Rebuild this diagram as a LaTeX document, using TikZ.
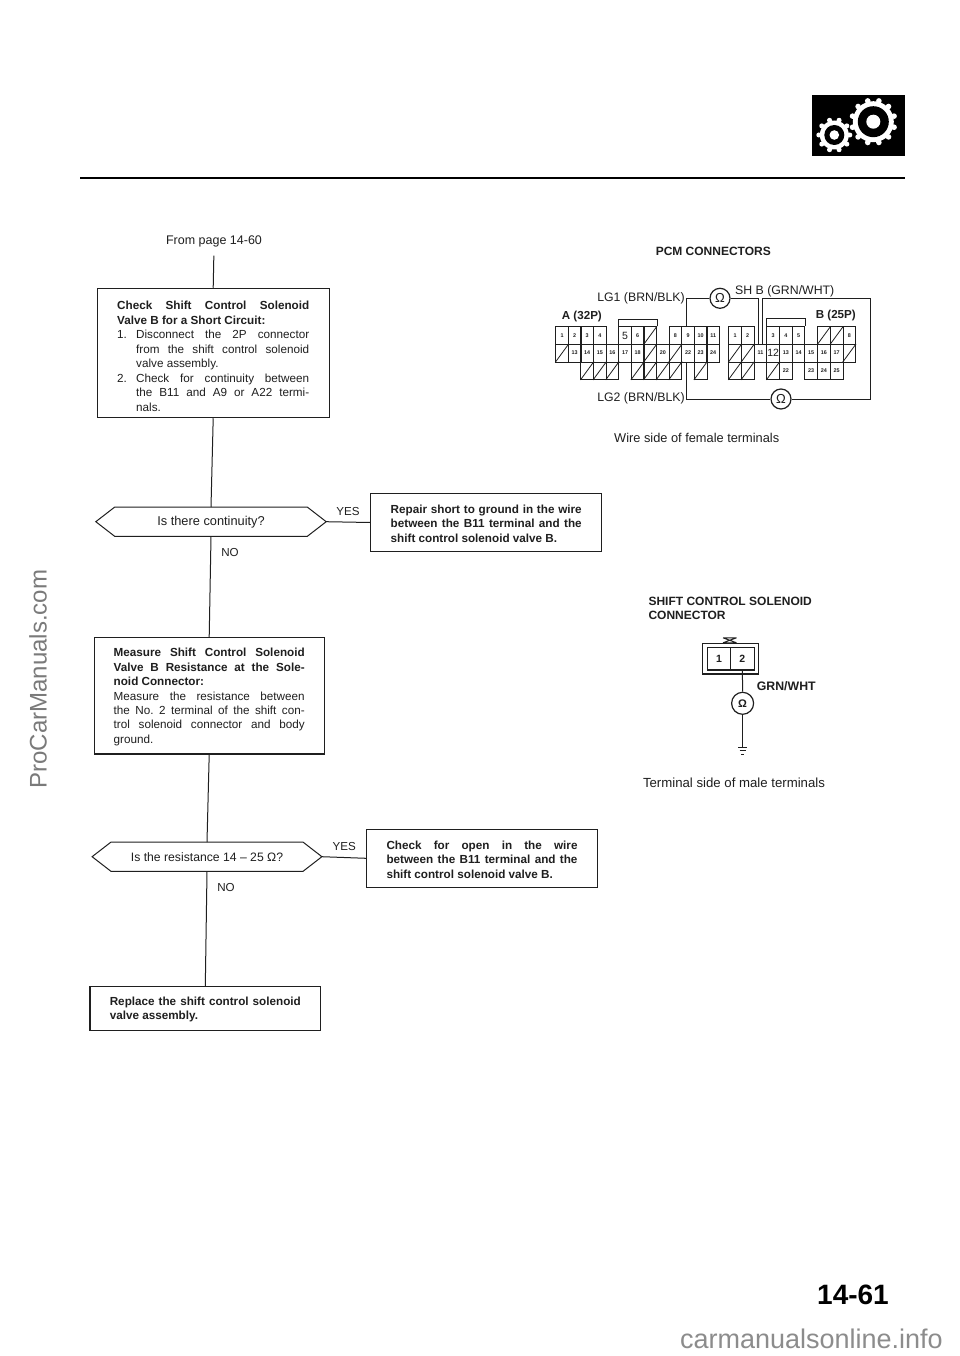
\documentclass[tikz,border=0pt]{standalone}
\usepackage{fontspec}
\setmainfont{Liberation Sans}
\usetikzlibrary{calc}
\definecolor{ink}{gray}{0.12}
\tikzset{
  every node/.style={text=ink},
  wire/.style={draw=ink,line width=1pt},
  frame/.style={draw=ink,line width=1.1pt,inner sep=0pt,align=justify,font=\fontsize{11.7}{14.45}\selectfont\frenchspacing},
  plain/.style={inner sep=0pt,font=\fontsize{12.8}{14}\selectfont},
  answer/.style={inner sep=0pt,font=\fontsize{11.6}{14}\selectfont},
  hd/.style={inner sep=0pt,font=\fontsize{12}{14}\bfseries\selectfont},
  lab/.style={inner sep=0pt,font=\fontsize{12.3}{14}\selectfont},
  pins/.style={inner sep=0pt,font=\fontsize{11.6}{14}\bfseries\selectfont},
  cell/.style={draw=ink,line width=.8pt,minimum width=12.65pt,minimum height=17.6pt,inner sep=0pt,font=\fontsize{5.4}{6}\bfseries\selectfont},
  bigcell/.style={cell,font=\fontsize{10.5}{11}\selectfont},
  meter/.style={circle,draw=ink,line width=1.2pt,minimum size=20pt,inner sep=0pt,fill=white,font=\fontsize{13}{13}\selectfont},
  hexa/.style={inner sep=0pt,font=\fontsize{12.8}{14}\selectfont},
}
\newcommand{\hexpath}[1]{%
  \draw[wire] (#1.west) -- ($(#1.north west)+(19,0)$) -- ($(#1.north east)+(-19,0)$) -- (#1.east)
    -- ($(#1.south east)+(-19,0)$) -- ($(#1.south west)+(19,0)$) -- cycle;}
\begin{document}
\begin{tikzpicture}[x=1pt,y=-1pt]
\useasboundingbox (0,0) rectangle (960,1356);
\fill[white] (0,0) rectangle (960,1356);

% badge and rule
\fill[black] (811.5,95) rectangle (905,156);
\fill[white] (873.3,121.7) circle (20.5);
\foreach \a in {0,30,...,330}{\fill[white] ($(873.3,121.7)+(\a+15:21.5)$) circle (2.8);}
\fill[black] (873.3,121.7) circle (15.5);
\fill[white] (873.3,121.7) circle (7);
\fill[white] (834.3,135) circle (14.5);
\foreach \a in {0,36,...,324}{\fill[white] ($(834.3,135)+(\a:15.5)$) circle (2.5);}
\fill[black] (834.3,135) circle (10);
\fill[white] (834.3,135) circle (4.8);
\draw[black,line width=2pt] (80,178) -- (905,178);

% flow chart
\node[plain,font=\fontsize{12.5}{14}\selectfont] (from) at (214,241.7) {From page 14-60};
\node[frame,minimum width=231.7pt,minimum height=129.4pt,text width=192pt] (b1) at (213.2,353) {%
\rule{0pt}{15pt}\textbf{Check Shift Control Solenoid\linebreak Valve B for a Short Circuit:}\par
\hangindent=19pt\hangafter=1 \makebox[19pt][l]{1.}Disconnect the 2P connector\linebreak from the shift control solenoid\linebreak valve assembly.\par
\hangindent=19pt\hangafter=1 \makebox[19pt][l]{2.}Check for continuity between\linebreak the B11 and A9 or A22 termi-\linebreak nals.\par};
\node[hexa,minimum width=230pt,minimum height=29pt] (d1) at (211,521.7) {Is there continuity?};
\hexpath{d1}
\node[answer] (y1) at (348,511.7) {YES};
\node[answer] (n1) at (230,552.3) {NO};
\node[frame,minimum width=231pt,minimum height=58.4pt,text width=191pt] (r1) at (486.2,522.5) {%
\rule{0pt}{11pt}\textbf{Repair short to ground in the wire\linebreak between the B11 terminal and the\linebreak shift control solenoid valve B.}\par};
\node[frame,minimum width=229.7pt,minimum height=116.3pt,text width=191pt] (b2) at (209.2,695.8) {%
\rule{0pt}{11pt}\textbf{Measure Shift Control Solenoid\linebreak Valve B Resistance at the Sole-\linebreak noid Connector:}\par
Measure the resistance between\linebreak the No. 2 terminal of the shift con-\linebreak trol solenoid connector and body\linebreak ground.\par};
\node[hexa,font=\fontsize{12.2}{14}\selectfont,minimum width=229.4pt,minimum height=29pt] (d2) at (207,856.7) {Is the resistance 14 – 25 Ω?};
\hexpath{d2}
\node[answer] (y2) at (344.3,846.7) {YES};
\node[answer] (n2) at (226,887.3) {NO};
\node[frame,minimum width=230.6pt,minimum height=58pt,text width=191pt] (r2) at (482,858.3) {%
\rule{0pt}{11pt}\textbf{Check for open in the wire\linebreak between the B11 terminal and the\linebreak shift control solenoid valve B.}\par};
\node[frame,minimum width=230.7pt,minimum height=44pt,text width=191pt] (b3) at (205.3,1008.7) {%
\rule{0pt}{10.5pt}\textbf{Replace the shift control solenoid\linebreak valve assembly.}\par};

\draw[wire,shorten <=8pt] (from.south) -- (b1.north);
\draw[wire] (b1.south) -- (d1.north);
\draw[wire] (d1.east) -- (r1.west);
\draw[wire] (d1.south) -- (b2.north);
\draw[wire] (b2.south) -- (d2.north);
\draw[wire] (d2.east) -- (r2.west);
\draw[wire] (d2.south) -- (b3.north);

% PCM connectors
\node[hd] (pcm) at (713.3,251.7) {PCM CONNECTORS};
\foreach \c/\r/\l in {0/0/1,1/0/2,2/0/3,3/0/4,6/0/6,9/0/8,10/0/9,11/0/10,12/0/11,
  1/1/13,2/1/14,3/1/15,4/1/16,5/1/17,6/1/18,8/1/20,10/1/22,11/1/23,12/1/24}{
  \node[cell] (A-\r-\c) at ({562+12.6*\c},{335.5+17.6*\r}) {\l};}
\node[bigcell] (A-0-5) at ({562+12.6*5},335.5) {5};
\foreach \c/\r in {7/0,0/1,7/1,9/1,2/2,3/2,4/2,6/2,7/2,8/2,9/2,11/2}{
  \node[cell] (A-\r-\c) at ({562+12.6*\c},{335.5+17.6*\r}) {};
  \draw[ink,line width=.8pt] (A-\r-\c.south west) -- (A-\r-\c.north east);}
\draw[wire,line width=.8pt] (A-0-5.north west) -- ++(0,-6.5) -| (A-0-7.north east);
\foreach \c/\r/\l in {0/0/1,1/0/2,3/0/3,4/0/4,5/0/5,9/0/8,
  2/1/11,4/1/13,5/1/14,6/1/15,7/1/16,8/1/17,4/2/22,6/2/23,7/2/24,8/2/25}{
  \node[cell] (B-\r-\c) at ({735+12.7*\c},{335.5+17.6*\r}) {\l};}
\node[bigcell] (B-1-3) at ({735+12.7*3},{335.5+17.6}) {12};
\foreach \c/\r in {7/0,8/0,0/1,1/1,9/1,0/2,1/2,3/2}{
  \node[cell] (B-\r-\c) at ({735+12.7*\c},{335.5+17.6*\r}) {};
  \draw[ink,line width=.8pt] (B-\r-\c.south west) -- (B-\r-\c.north east);}
\draw[wire,line width=.8pt] (B-0-3.north west) -- ++(0,-7.5) -| (B-0-5.north east);

\node[meter] (ohm1) at (720,298.3) {Ω};
\node[meter] (ohm2) at (781,399) {Ω};
\node[lab,anchor=east] (lg1) at (685,298.3) {LG1 (BRN/BLK)};
\node[lab,anchor=east] (lg2) at (685,398.3) {LG2 (BRN/BLK)};
\node[lab,anchor=west] (shb) at (735,291) {SH B (GRN/WHT)};
\node[pins,anchor=west] (ap) at (561.7,316.7) {A (32P)};
\node[pins,anchor=east] (bp) at (856,315.7) {B (25P)};
\node[plain] (wside) at (696.7,438.3) {Wire side of female terminals};
\coordinate (ret) at (870,298.6);
\draw[wire] (ohm1.west) -| ([xshift=-1.3pt]A-0-10.north);
\draw[wire] (ohm1.east) -| ([xshift=-1.6pt]B-1-2.north);
\draw[wire] ([xshift=1.6pt]B-1-2.north) |- (ret) |- (ohm2.east);
\draw[wire] (ohm2.west) -| ([xshift=-1.3pt]A-1-10.south);

% solenoid connector
\node[hd,align=left,anchor=north west] (sc) at (648.3,596.5) {SHIFT CONTROL SOLENOID\\CONNECTOR};
\node[draw=ink,line width=1.1pt,minimum width=55.6pt,minimum height=30.7pt,inner sep=0pt] (so) at (730.5,658.6) {};
\node[cell,line width=1.1pt,minimum width=23.4pt,minimum height=22.7pt,font=\fontsize{10.5}{11}\bfseries\selectfont] (s1) at (719,658.6) {1};
\node[cell,line width=1.1pt,minimum width=23.4pt,minimum height=22.7pt,font=\fontsize{10.5}{11}\bfseries\selectfont] (s2) at (742.4,658.6) {2};
\draw[wire] (723,637.8) -- (736.5,637.8) (723,642.8) -- (736.5,642.8) (723,637.8) -- (736.5,642.8) (723,642.8) -- (736.5,637.8);
\node[meter,minimum size=22pt,font=\fontsize{11}{11}\bfseries\selectfont] (ohm3) at (742.6,703.3) {Ω};
\coordinate (gnd) at (742.6,747.2);
\draw[wire] (s2.south) -- (ohm3.north);
\draw[wire] (ohm3.south) -- (gnd);
\draw[wire] ($(gnd)+(-4.6,0)$) -- ++(9.2,0) ($(gnd)+(-3,3.4)$) -- ++(6,0) ($(gnd)+(-1.4,6.8)$) -- ++(2.8,0);
\node[hd,font=\fontsize{12.3}{14}\bfseries\selectfont,anchor=west] (gw) at (756.7,686) {GRN/WHT};
\node[plain,font=\fontsize{13.2}{14}\selectfont] (tside) at (734,782.7) {Terminal side of male terminals};

% page number and marks
\node[inner sep=0pt,text=black,font=\fontsize{28}{28}\bfseries\selectfont] (pg) at (853,1295) {14-61};
\node[inner sep=0pt,rotate=90,text=black!52,font=\fontsize{24}{24}\selectfont] (wm) at (38,679) {ProCarManuals.com};
\node[inner sep=0pt,anchor=base east,text=black!45,font=\fontsize{27}{27}\selectfont] (wm2) at (943,1348) {carmanualsonline.info};
\end{tikzpicture}
\end{document}
